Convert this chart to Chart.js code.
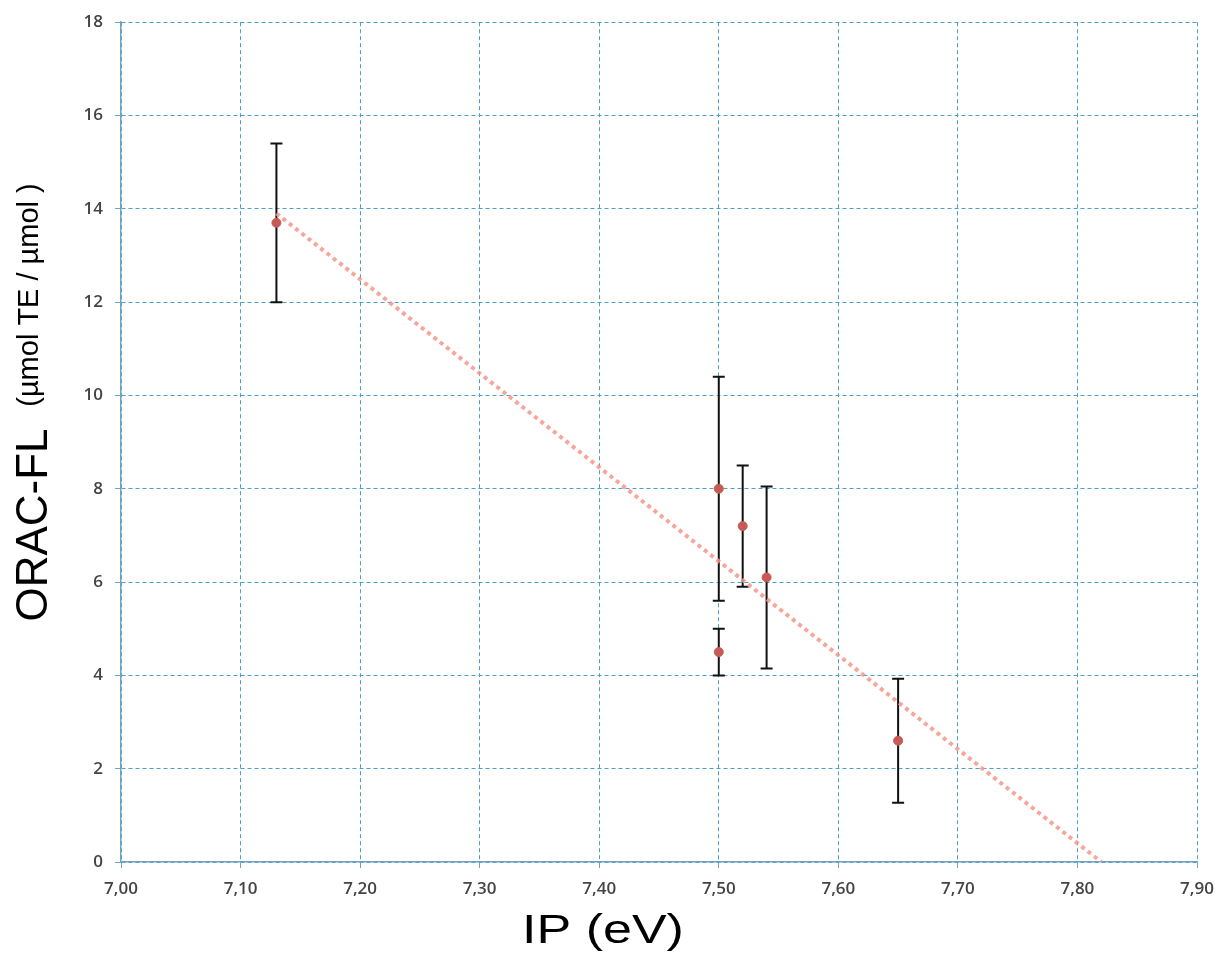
<!DOCTYPE html>
<html>
<head>
<meta charset="utf-8">
<title>ORAC-FL vs IP</title>
<script src="https://cdn.jsdelivr.net/npm/chart.js@4.4.1/dist/chart.umd.min.js"></script>
<style>
  body { margin: 0; background: #fff; }
  #wrap { width: 1217px; height: 969px; }
</style>
</head>
<body>
<div id="wrap"><canvas id="chart" width="1217" height="969"></canvas></div>
<script>
// ==============================
// DATA
// ==============================
const ipValues   = [7.13, 7.50, 7.50, 7.52, 7.54, 7.65];
const oracValues = [13.7, 8.0, 4.5, 7.2, 6.1, 2.6];
const oracErrors = [1.7, 2.4, 0.5, 1.3, 1.95, 1.33];

const trendX = [7.13, 7.82];
const trendY = [13.9, 0];

const xTitle = 'IP (eV)';
const yTitleMain = 'ORAC-FL';
const yTitleUnit = '(µmol TE / µmol )';

const points = ipValues.map((x, i) => ({ x: x, y: oracValues[i] }));
const trend  = trendX.map((x, i) => ({ x: x, y: trendY[i] }));

// ==============================
// ERROR BARS (through the scales)
// ==============================
const errorBars = {
  id: 'errorBars',
  beforeDatasetsDraw(chart) {
    const { ctx, scales: { x, y } } = chart;
    ctx.save();
    ctx.strokeStyle = '#111';
    ctx.lineWidth = 2;
    ipValues.forEach((v, i) => {
      const px = x.getPixelForValue(v);
      const top = y.getPixelForValue(oracValues[i] + oracErrors[i]);
      const bot = y.getPixelForValue(oracValues[i] - oracErrors[i]);
      ctx.beginPath();
      ctx.moveTo(px, top); ctx.lineTo(px, bot);
      ctx.moveTo(px - 6, top); ctx.lineTo(px + 6, top);
      ctx.moveTo(px - 6, bot); ctx.lineTo(px + 6, bot);
      ctx.stroke();
    });
    ctx.restore();
  }
};

// ==============================
// AXIS TITLES
// ==============================
const axisTitles = {
  id: 'axisTitles',
  afterDraw(chart) {
    const ctx = chart.ctx;
    ctx.save();
    ctx.fillStyle = '#000';
    ctx.textAlign = 'center';
    ctx.textBaseline = 'alphabetic';

    // y title, rotated
    ctx.save();
    ctx.translate(47, 525);
    ctx.rotate(-Math.PI / 2);
    ctx.font = '44px "Liberation Sans", Arial, sans-serif';
    ctx.fillText(yTitleMain, 0, 0);
    ctx.restore();

    ctx.save();
    ctx.translate(38, 295);
    ctx.rotate(-Math.PI / 2);
    ctx.font = '29px "Liberation Sans", Arial, sans-serif';
    ctx.fillText(yTitleUnit, 0, 0);
    ctx.restore();

    // x title (slightly wide, like the original)
    ctx.save();
    ctx.translate(603, 943);
    ctx.scale(1.3, 1);
    ctx.font = '40px "Liberation Sans", Arial, sans-serif';
    ctx.fillText(xTitle, 0, 0);
    ctx.restore();

    ctx.restore();
  }
};

const gridColor = '#4c9fc6';
const axisColor = '#6fa3bf';
const tickFont = { family: '"Open Sans", sans-serif', size: 17, weight: '600' };

new Chart(document.getElementById('chart'), {
  type: 'scatter',
  data: {
    datasets: [
      {
        label: 'ORAC-FL',
        data: points,
        backgroundColor: '#c75a55',
        borderColor: '#c75a55',
        pointRadius: 4.5,
        pointHoverRadius: 4.5,
        order: 1
      },
      {
        label: 'trend',
        type: 'line',
        data: trend,
        borderColor: 'rgba(244,150,138,0.85)',
        borderWidth: 4,
        borderDash: [4, 4],
        pointRadius: 0,
        fill: false,
        order: 2
      }
    ]
  },
  options: {
    responsive: false,
    animation: false,
    layout: { padding: { left: 0, right: 20, top: 20, bottom: 0 } },
    plugins: {
      legend: { display: false },
      tooltip: { enabled: false }
    },
    scales: {
      x: {
        type: 'linear',
        min: 7.0,
        max: 7.9,
        afterFit: s => { s.height = 107; s.paddingRight = 0; s.paddingLeft = 0; },
        ticks: {
          stepSize: 0.1,
          color: '#444',
          font: tickFont,
          padding: 11,
          callback: v => v.toFixed(2).replace('.', ',')
        },
        grid: { color: gridColor, tickColor: axisColor, tickLength: 6, lineWidth: 1 },
        border: { color: axisColor, width: 1.5, dash: [4, 3] }
      },
      y: {
        min: 0,
        max: 18,
        afterFit: s => { s.width = 121; },
        ticks: {
          stepSize: 2,
          color: '#444',
          font: tickFont,
          padding: 12
        },
        grid: { color: gridColor, tickColor: axisColor, tickLength: 6, lineWidth: 1 },
        border: { color: axisColor, width: 1.5, dash: [4, 3] }
      }
    }
  },
  plugins: [errorBars, axisTitles]
});
</script>
</body>
</html>
